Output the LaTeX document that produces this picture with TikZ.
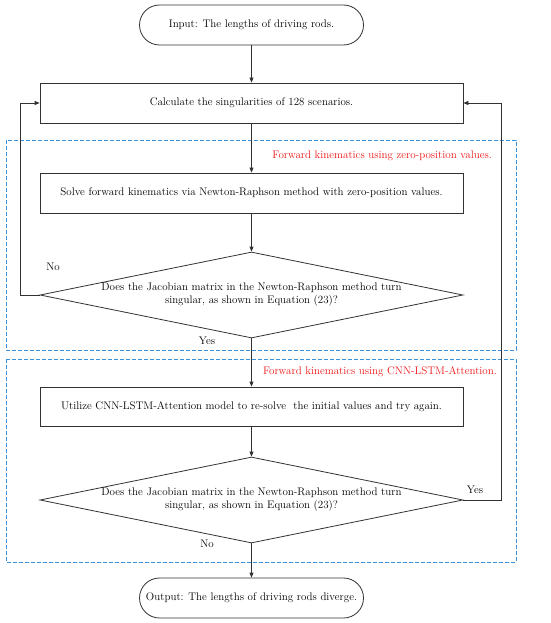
\documentclass[tikz,border=0pt]{standalone}
\usetikzlibrary{arrows.meta,shapes.geometric}
\definecolor{linegray}{RGB}{50,50,50}
\definecolor{dashblue}{RGB}{60,145,220}
\definecolor{redtxt}{RGB}{240,20,20}
\begin{document}
\begin{tikzpicture}[x=1pt,y=-1pt,
  every node/.style={font=\fontsize{11}{13}\selectfont, text=black},
  term/.style={draw=linegray, line width=0.8pt, rounded corners=20pt, minimum width=224pt, minimum height=40pt, inner sep=2pt},
  procbox/.style={draw=linegray, line width=0.8pt, minimum width=423pt, minimum height=40pt, inner sep=2pt},
  decision/.style={draw=linegray, line width=0.8pt, diamond, shape aspect=4.92, minimum width=423pt, minimum height=86pt, inner sep=0pt, align=center},
  arr/.style={draw=linegray, line width=0.8pt, -{Triangle[length=5pt,width=4pt]}},
  grp/.style={draw=dashblue, line width=0.9pt, dash pattern=on 4pt off 2pt},
  note/.style={text=redtxt, anchor=east, inner sep=0pt},
  lbl/.style={inner sep=0pt}
]
\useasboundingbox (0,0) rectangle (550,623);
\draw[grp] (6,140) rectangle (516,350);
\draw[grp] (6,359) rectangle (516,562);

\node[term] (in) at (251.5,25) {Input: The lengths of driving rods.};
\node[procbox] (calc) at (251.5,103) {Calculate the singularities of 128 scenarios.};
\node[procbox] (solve) at (251.5,193) {Solve forward kinematics via Newton-Raphson method with zero-position values.};
\node[decision] (d1) at (251.5,295) {Does the Jacobian matrix in the Newton-Raphson method turn\\singular, as shown in Equation (23)?};
\node[procbox, minimum height=39pt] (util) at (251.5,406.5) {Utilize CNN-LSTM-Attention model to re-solve\ \ the initial values and try again.};
\node[decision] (d2) at (251.5,500) {Does the Jacobian matrix in the Newton-Raphson method turn\\singular, as shown in Equation (23)?};
\node[term] (out) at (251.5,598) {Output: The lengths of driving rods diverge.};

\node[note] (n1) at (492,156) {Forward kinematics using zero-position values.};
\node[note] (n2) at (497,372) {Forward kinematics using CNN-LSTM-Attention.};

\draw[arr] (in) -- (calc);
\draw[arr] (calc) -- (solve);
\draw[arr] (solve) -- (d1);
\draw[arr] (d1) -- (util);
\draw[arr] (util) -- (d2);
\draw[arr] (d2) -- (out);
\draw[arr] (d1.west) -- ++(-19,0) |- (calc.west);
\draw[arr] (d2.east) -- ++(38,0) |- (calc.east);

\node[lbl] (no1) at (53,267) {No};
\node[lbl] (yes1) at (207,341) {Yes};
\node[lbl] (yes2) at (475,490) {Yes};
\node[lbl] (no2) at (207,544) {No};
\end{tikzpicture}
\end{document}
